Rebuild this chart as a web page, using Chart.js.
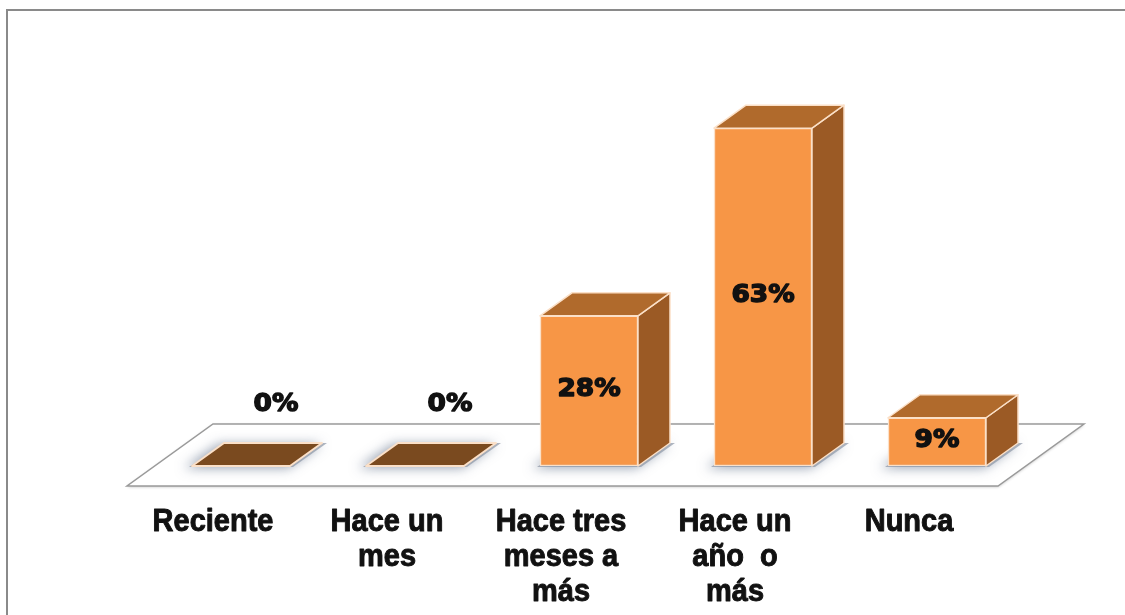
<!DOCTYPE html>
<html>
<head>
<meta charset="utf-8">
<script src="https://cdn.jsdelivr.net/npm/chart.js@4.4.1/dist/chart.umd.min.js"></script>
<style>
  html, body { margin: 0; padding: 0; background: #ffffff; }
  #wrap { width: 1125px; height: 615px; }
</style>
</head>
<body>
<div id="wrap"><canvas id="chart" width="1125" height="615"></canvas></div>
<script>
// Datos del gráfico
const categorias = [
    ['Reciente'],
    ['Hace un', 'mes'],
    ['Hace tres', 'meses a', 'más'],
    ['Hace un', 'año  o', 'más'],
    ['Nunca']
];
const porcentajes = [0, 0, 28, 63, 9];
const yMin = 0;
const yMax = 80;

// Colores de las caras
const colores = {
    frente: '#F79646',
    techo: '#B06A2C',
    lado: '#9B5A25',
    plano: '#7A4A1F',
    borde: '#FBE0C8',
    piso: '#9A9A9A',
    marco: '#8A8A8A'
};

// Profundidad (perspectiva)
const prof = { dx: 32, dy: -23 };

function poly(ctx, pts) {
    ctx.beginPath();
    ctx.moveTo(pts[0][0], pts[0][1]);
    for (let i = 1; i < pts.length; i++) ctx.lineTo(pts[i][0], pts[i][1]);
    ctx.closePath();
}

// Texto grueso (relleno + trazo fino)
function textoGrueso(ctx, txt, x, y, sx, sy, trazo) {
    ctx.save();
    ctx.translate(x, y);
    ctx.scale(sx, sy);
    ctx.lineWidth = trazo;
    ctx.strokeStyle = ctx.fillStyle;
    ctx.strokeText(txt, 0, 0);
    ctx.fillText(txt, 0, 0);
    ctx.restore();
}

// Marco, piso y sombras
const fondo3d = {
    id: 'fondo3d',
    beforeDatasetsDraw(chart) {
        const ctx = chart.ctx;
        const xs = chart.scales.x;
        const ys = chart.scales.y;
        const base = ys.getPixelForValue(0);
        ctx.save();

        // marco
        ctx.strokeStyle = colores.marco;
        ctx.lineWidth = 2;
        ctx.beginPath();
        ctx.moveTo(7, 615);
        ctx.lineTo(7, 10);
        ctx.lineTo(1125, 10);
        ctx.stroke();

        // piso
        const frontY = base + 20;
        const backY = frontY - 62;
        const fl = xs.left - 27;
        const fr = xs.right - 26;
        poly(ctx, [[fl, frontY], [fr, frontY], [fr + 86, backY], [fl + 86, backY]]);
        ctx.fillStyle = '#ffffff';
        ctx.shadowColor = 'rgba(0,0,0,0.25)';
        ctx.shadowBlur = 3;
        ctx.shadowOffsetY = 1;
        ctx.fill();
        ctx.shadowColor = 'transparent';
        ctx.strokeStyle = colores.piso;
        ctx.lineWidth = 1.5;
        ctx.stroke();

        // sombras
        const meta = chart.getDatasetMeta(0);
        meta.data.forEach(function(bar) {
            const p = bar.getProps(['x', 'width'], true);
            const l = p.x - p.width / 2;
            const r = p.x + p.width / 2;
            ctx.save();
            ctx.shadowColor = 'rgba(60, 80, 110, 0.75)';
            ctx.shadowBlur = 12;
            ctx.shadowOffsetX = -5;
            ctx.fillStyle = 'rgba(140, 150, 165, 0.7)';
            poly(ctx, [[l - 3, base + 1], [r + 3, base + 1], [r + prof.dx + 5, base + prof.dy], [l + prof.dx, base + prof.dy]]);
            ctx.fill();
            ctx.restore();
        });
        ctx.restore();
    }
};

// Caras laterales, techos y etiquetas
const caras3d = {
    id: 'caras3d',
    afterDatasetsDraw(chart) {
        const ctx = chart.ctx;
        const meta = chart.getDatasetMeta(0);
        ctx.save();
        ctx.lineJoin = 'round';
        meta.data.forEach(function(bar, i) {
            const p = bar.getProps(['x', 'y', 'base', 'width'], true);
            const l = p.x - p.width / 2;
            const r = p.x + p.width / 2;
            const t = p.y;
            const b = p.base;
            ctx.strokeStyle = colores.borde;
            ctx.lineWidth = 1.5;

            if (porcentajes[i] === 0) {
                poly(ctx, [[l, b], [r, b], [r + prof.dx, b + prof.dy], [l + prof.dx, b + prof.dy]]);
                ctx.fillStyle = colores.plano;
                ctx.fill();
                ctx.lineWidth = 2;
                ctx.stroke();
                return;
            }
            // lado
            poly(ctx, [[r, t], [r + prof.dx, t + prof.dy], [r + prof.dx, b + prof.dy], [r, b]]);
            ctx.fillStyle = colores.lado;
            ctx.fill();
            ctx.stroke();
            // techo
            poly(ctx, [[l, t], [r, t], [r + prof.dx, t + prof.dy], [l + prof.dx, t + prof.dy]]);
            ctx.fillStyle = colores.techo;
            ctx.fill();
            ctx.stroke();
        });

        // etiquetas de datos
        ctx.fillStyle = '#111111';
        ctx.font = 'bold 24px "DejaVu Sans"';
        ctx.textAlign = 'center';
        ctx.textBaseline = 'middle';
        meta.data.forEach(function(bar, i) {
            const p = bar.getProps(['x', 'y', 'base'], true);
            let lx, ly;
            if (porcentajes[i] === 0) {
                lx = p.x + 35;
                ly = p.base - 61;
            } else {
                lx = p.x;
                ly = (p.y + p.base) / 2 - 1;
            }
            textoGrueso(ctx, porcentajes[i] + '%', lx, ly, 1.1, 1, 1.4);
        });

        // etiquetas de categoría
        const xs = chart.scales.x;
        ctx.font = 'bold 29px "Liberation Sans", Arial, sans-serif';
        categorias.forEach(function(lineas, i) {
            const cx = xs.getPixelForValue(i) - 28;
            lineas.forEach(function(txt, j) {
                textoGrueso(ctx, txt, cx, 522 + j * 35, 1, 1.1, 0.9);
            });
        });
        ctx.restore();
    }
};

new Chart(document.getElementById('chart').getContext('2d'), {
    type: 'bar',
    data: {
        labels: categorias.map(function(c) { return c.join(' '); }),
        datasets: [{
            data: porcentajes,
            backgroundColor: colores.frente,
            borderColor: colores.borde,
            borderWidth: function(c) { return c.raw === 0 ? 0 : 1.5; },
            borderSkipped: false,
            barThickness: 98
        }]
    },
    options: {
        responsive: false,
        animation: false,
        layout: { padding: { left: 154, right: 101, top: 37, bottom: 149 } },
        plugins: {
            legend: { display: false },
            tooltip: { enabled: false }
        },
        scales: {
            x: { display: false, offset: true, grid: { display: false } },
            y: { display: false, min: yMin, max: yMax, grid: { display: false } }
        }
    },
    plugins: [fondo3d, caras3d]
});
</script>
</body>
</html>
